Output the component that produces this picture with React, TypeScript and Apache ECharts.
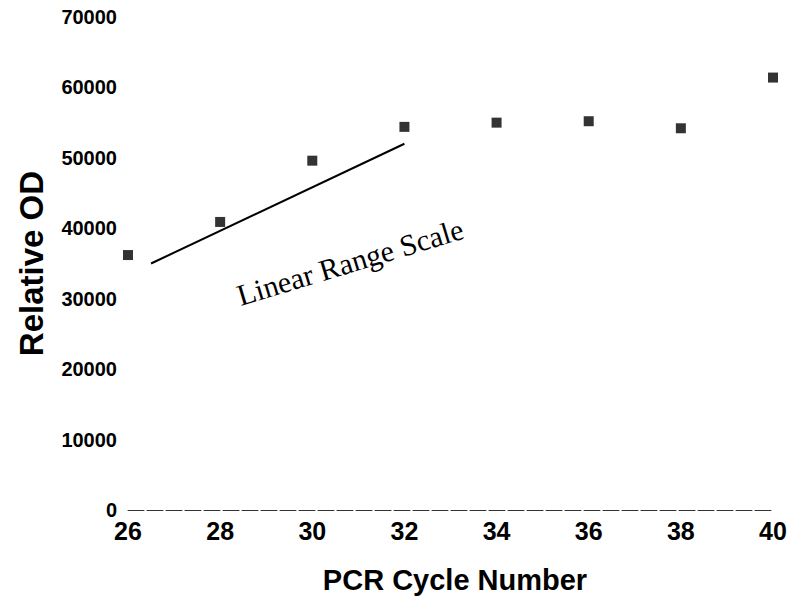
import React, { useEffect, useRef } from "react";
import * as echarts from "echarts";

const cycles = [26, 28, 30, 32, 34, 36, 38, 40];
const relativeOD = [36200, 40900, 49600, 54400, 55000, 55200, 54200, 61400];
const linearRangeX = [26.5, 32];
const linearRangeY = [35000, 52000];
const annotationText = "Linear Range Scale";

export default function App() {
  const ref = useRef<HTMLDivElement>(null);
  useEffect(() => {
    if (!ref.current) return;
    const chart = echarts.init(ref.current, null, { renderer: "svg" });
    const sans = "'Liberation Sans', Arial, Helvetica, sans-serif";
    chart.setOption({
      animation: false,
      backgroundColor: "#ffffff",
      grid: { left: 128, right: 23, top: 17, bottom: 95, outerBoundsMode: "none" },
      xAxis: {
        type: "value",
        min: 26,
        max: 40,
        interval: 2,
        name: "PCR Cycle Number",
        nameLocation: "middle",
        nameGap: 55,
        nameTextStyle: {
          fontFamily: sans,
          fontWeight: "bold",
          fontSize: 29,
          color: "#000",
          padding: [0, 0, 0, 9],
        },
        axisLine: {
          show: true,
          onZero: false,
          lineStyle: { color: "#333", width: 1, type: [16, 3] },
        },
        axisTick: { show: false },
        splitLine: { show: false },
        axisLabel: {
          margin: 8,
          fontFamily: sans,
          fontWeight: "bold",
          fontSize: 25,
          color: "#000",
          formatter: (v: number) => String(v),
        },
      },
      yAxis: {
        type: "value",
        min: 0,
        max: 70000,
        interval: 10000,
        name: "Relative OD",
        nameLocation: "middle",
        nameGap: 80,
        nameTextStyle: {
          fontFamily: sans,
          fontWeight: "bold",
          fontSize: 33,
          color: "#000",
        },
        axisLine: { show: false },
        axisTick: { show: false },
        splitLine: { show: false },
        axisLabel: {
          margin: 11,
          fontFamily: sans,
          fontWeight: "bold",
          fontSize: 20,
          color: "#000",
          formatter: (v: number) => String(v),
        },
      },
      series: [
        {
          type: "line",
          data: linearRangeX.map((x, i) => [x, linearRangeY[i]]),
          symbol: "none",
          lineStyle: { color: "#000", width: 2 },
          silent: true,
        },
        {
          type: "scatter",
          data: cycles.map((c, i) => [c, relativeOD[i]]),
          symbol: "rect",
          symbolSize: 10,
          itemStyle: { color: "#000" },
        },
      ],
      graphic: [
        {
          type: "text",
          x: 350,
          y: 262,
          rotation: (16.8 * Math.PI) / 180,
          style: {
            text: annotationText,
            fontFamily: "'Liberation Serif', 'Times New Roman', serif",
            fontSize: 30,
            fill: "#000",
            textAlign: "center",
            textVerticalAlign: "middle",
          },
        },
      ],
    });
    return () => chart.dispose();
  }, []);
  return (
    <div
      ref={ref}
      style={{ position: "fixed", left: 0, top: 0, width: 796, height: 605, background: "#fff" }}
    />
  );
}
